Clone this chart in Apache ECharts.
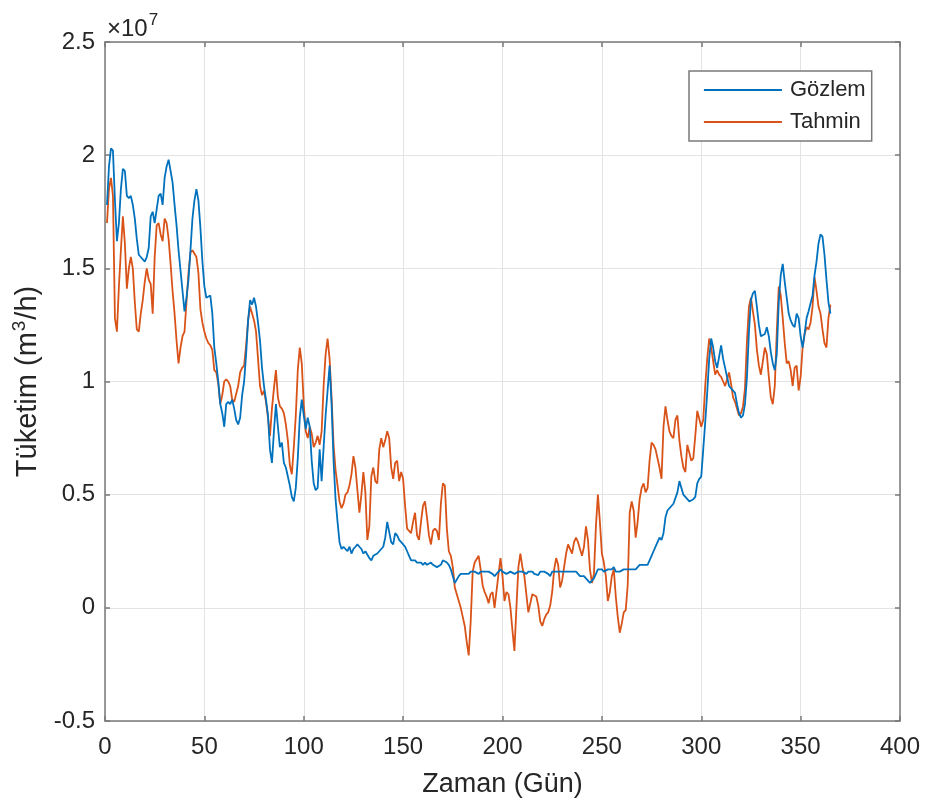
<!DOCTYPE html>
<html>
<head>
<meta charset="utf-8">
<script src="https://cdn.jsdelivr.net/npm/echarts@6/dist/echarts.min.js"></script>
<style>
  html, body { margin: 0; padding: 0; background: #fff; }
  #chart { width: 928px; height: 808px; }
</style>
</head>
<body>
<div id="chart"></div>
<script>
// Daily consumption, values in units of 10^7 m3/h (day 1 .. 365)
const gozlem = [
  1.78,1.95,2.03,2.02,1.80,1.62,1.70,1.85,1.94,1.93,
  1.82,1.81,1.82,1.78,1.72,1.63,1.56,1.55,1.55,1.53,
  1.55,1.59,1.73,1.75,1.70,1.76,1.82,1.83,1.78,1.90,
  1.95,1.98,1.98,1.88,1.78,1.69,1.58,1.49,1.40,1.31,
  1.37,1.45,1.58,1.72,1.80,1.85,1.80,1.68,1.53,1.42,
  1.37,1.37,1.38,1.30,1.15,1.08,1.00,0.90,0.86,0.80,
  0.90,0.91,0.90,0.92,0.88,0.83,0.81,0.84,0.94,1.00,
  1.12,1.27,1.36,1.34,1.37,1.33,1.26,1.18,1.06,0.98,
  0.92,0.85,0.70,0.64,0.78,0.90,0.80,0.71,0.73,0.64,
  0.62,0.58,0.54,0.49,0.47,0.53,0.66,0.84,0.92,0.85,
  0.79,0.84,0.80,0.65,0.55,0.52,0.53,0.70,0.56,0.71,
  0.85,0.96,1.07,0.90,0.65,0.48,0.38,0.29,0.26,0.27,
  0.27,0.25,0.27,0.24,0.26,0.27,
  0.28,0.27,0.26,0.24,0.25,
  0.25,0.22,0.21,0.23,0.23,0.24,0.25,0.26,0.27,0.31,
  0.38,0.38,0.29,0.28,0.33,0.32,0.30,0.29,0.28,0.27,
  0.25,0.23,0.21,0.21,0.21,0.20,0.20,0.20,0.19,0.20,
  0.19,0.19,0.20,0.19,0.19,0.18,0.18,0.19,0.21,0.21,
  0.20,0.19,0.17,0.14,0.11,0.11,0.14,0.15,0.15,0.15,
  0.15,0.15,0.16,0.16,0.16,0.16,0.15,0.16,0.16,0.16,
  0.16,0.16,0.16,0.15,0.14,0.15,0.16,0.17,0.16,0.16,
  0.15,0.15,0.16,0.16,0.15,0.15,0.16,0.16,0.16,0.16,
  0.15,0.16,0.16,0.16,0.15,0.15,0.145,0.16,0.16,0.16,
  0.16,0.15,0.14,0.16,0.16,0.16,0.16,0.16,0.16,0.16,
  0.16,0.16,0.16,0.16,0.16,0.16,0.15,0.14,0.14,0.14,
  0.13,0.12,0.11,0.11,0.13,0.15,0.17,0.17,0.17,0.16,
  0.16,0.17,0.17,0.17,0.18,0.16,0.16,0.16,0.16,0.17,
  0.17,0.17,0.17,0.17,0.17,0.17,0.18,0.19,0.19,0.19,0.19,
  0.19,0.19,0.23,0.25,0.27,0.29,0.31,0.30,0.33,0.40,
  0.43,0.44,0.45,0.46,0.46,0.51,0.56,0.53,0.50,0.49,
  0.48,0.47,0.47,0.48,0.49,0.55,0.57,0.58,0.70,0.82,
  0.95,1.10,1.19,1.15,1.09,1.06,1.11,1.16,1.10,1.06,
  1.02,0.98,0.97,0.96,0.95,0.90,0.86,0.84,0.85,0.90,
  1.02,1.22,1.36,1.39,1.40,1.33,1.25,1.20,1.20,1.21,
  1.24,1.20,1.13,1.08,1.05,1.12,1.35,1.47,1.52,1.44,
  1.37,1.30,1.27,1.25,1.24,1.30,1.28,1.20,1.15,1.21,
  1.28,1.31,1.31,1.38,1.47,1.53,1.61,1.65,1.64,1.56,
  1.45,1.35,1.30
];

const tahmin = [
  1.70,1.85,1.90,1.82,1.28,1.22,1.42,1.58,1.73,1.61,
  1.41,1.50,1.55,1.50,1.35,1.23,1.22,1.30,1.36,1.44,
  1.50,1.45,1.43,1.30,1.55,1.69,1.70,1.65,1.62,1.72,
  1.70,1.63,1.52,1.40,1.30,1.18,1.08,1.15,1.20,1.22,
  1.35,1.48,1.57,1.58,1.58,1.55,1.48,1.32,1.26,1.22,
  1.19,1.17,1.16,1.14,1.05,1.04,0.99,0.90,0.94,1.00,
  1.01,1.00,0.98,0.92,0.91,0.91,0.98,1.04,1.06,1.07,
  1.16,1.27,1.33,1.30,1.27,1.22,1.10,0.98,0.94,0.96,
  0.91,0.84,0.76,0.88,0.97,1.05,0.93,0.89,0.88,0.86,
  0.81,0.74,0.63,0.59,0.71,0.85,1.05,1.15,1.08,0.90,
  0.78,0.75,0.80,0.77,0.71,0.73,0.76,0.72,0.78,0.98,
  1.12,1.19,1.10,0.93,0.72,0.61,0.54,0.47,0.44,0.46,
  0.50,0.51,0.54,0.59,0.67,0.62,
  0.52,0.42,0.50,0.60,0.51,
  0.30,0.36,0.58,0.62,0.56,0.55,0.70,0.75,0.71,0.74,
  0.78,0.75,0.62,0.57,0.64,0.65,0.56,0.60,0.57,0.45,
  0.35,0.34,0.33,0.38,0.42,0.32,0.30,0.38,0.45,0.47,
  0.40,0.32,0.28,0.34,0.35,0.34,0.30,0.46,0.55,0.54,
  0.35,0.25,0.23,0.18,0.09,0.06,0.03,0.00,-0.04,-0.08,
  -0.15,-0.21,-0.06,0.16,0.20,0.20,0.23,0.17,0.10,0.07,
  0.05,0.02,0.06,0.07,0.00,0.00,0.15,0.22,0.14,0.03,
  0.07,0.06,0.00,-0.10,-0.19,0.00,0.18,0.24,0.18,0.14,
  0.06,-0.02,0.02,0.06,0.06,0.05,0.01,-0.06,-0.08,-0.05,
  -0.03,-0.02,0.01,0.07,0.17,0.22,0.19,0.09,0.12,0.18,
  0.24,0.28,0.28,0.24,0.29,0.31,0.29,0.26,0.23,0.27,
  0.36,0.30,0.17,0.11,0.15,0.36,0.50,0.38,0.24,0.20,
  0.14,0.03,0.07,0.14,0.17,0.05,-0.04,-0.11,-0.07,-0.02,
  -0.01,0.10,0.42,0.47,0.43,0.31,0.38,0.48,0.53,0.55,0.51,
  0.53,0.65,0.73,0.72,0.70,0.66,0.62,0.57,0.80,0.89,
  0.83,0.78,0.76,0.75,0.83,0.85,0.74,0.67,0.62,0.60,
  0.72,0.72,0.65,0.66,0.76,0.87,0.87,0.80,0.83,0.98,
  1.10,1.19,1.15,1.09,1.03,1.05,1.03,1.02,1.00,0.98,
  1.01,1.04,0.99,0.93,0.91,0.88,0.85,0.86,0.89,0.97,
  1.18,1.33,1.37,1.31,1.25,1.14,1.07,1.03,1.09,1.15,
  1.12,1.02,0.93,0.90,0.98,1.22,1.42,1.38,1.28,1.17,
  1.08,1.09,1.05,0.98,1.06,1.07,0.96,1.02,1.15,1.21,
  1.24,1.23,1.26,1.33,1.46,1.40,1.33,1.30,1.23,1.17,
  1.15,1.28,1.34
];

const xTicks = [0, 50, 100, 150, 200, 250, 300, 350, 400];
const yTicks = [-0.5, 0, 0.5, 1, 1.5, 2, 2.5];

const FONT = '"Liberation Sans", Arial, Helvetica, sans-serif';
const AXIS_COLOR = '#7a7a7a';
const TEXT_COLOR = '#262626';

const toPairs = arr => arr.map((v, i) => [i + 1, v]);

const chart = echarts.init(document.getElementById('chart'), null, { renderer: 'canvas' });

const baseX = {
  type: 'value',
  min: xTicks[0],
  max: xTicks[xTicks.length - 1],
  interval: xTicks[1] - xTicks[0]
};
const baseY = {
  type: 'value',
  min: yTicks[0],
  max: yTicks[yTicks.length - 1],
  interval: yTicks[1] - yTicks[0]
};

chart.setOption({
  animation: false,
  backgroundColor: '#ffffff',
  textStyle: { fontFamily: FONT },
  grid: { left: 105, top: 42, right: 28, bottom: 87, containLabel: false },
  legend: {
    data: ['Gözlem', 'Tahmin'],
    orient: 'vertical',
    left: 689,
    top: 71,
    padding: [8, 6, 8, 14],
    itemGap: 10,
    itemWidth: 78,
    itemHeight: 14,
    // plain line keys, no point markers
    itemStyle: { opacity: 0 },
    lineStyle: { width: 1.8 },
    borderColor: AXIS_COLOR,
    borderWidth: 1.5,
    borderRadius: 0,
    backgroundColor: '#ffffff',
    textStyle: { fontSize: 22, color: TEXT_COLOR, fontFamily: FONT, padding: [0, 0, 0, 3] }
  },
  xAxis: [
    Object.assign({}, baseX, {
      position: 'bottom',
      name: 'Zaman (Gün)',
      nameLocation: 'middle',
      nameGap: 50,
      nameTextStyle: { fontSize: 27, color: TEXT_COLOR, fontFamily: FONT },
      axisLine: { show: true, onZero: false, lineStyle: { color: AXIS_COLOR, width: 1.5 } },
      axisTick: { show: true, inside: true, length: 5, lineStyle: { color: AXIS_COLOR, width: 1.5 } },
      axisLabel: { fontSize: 24, color: TEXT_COLOR, margin: 14, fontFamily: FONT },
      splitLine: { show: true, lineStyle: { color: '#e3e3e3', width: 1 } }
    }),
    Object.assign({}, baseX, {
      position: 'top',
      axisLine: { show: true, onZero: false, lineStyle: { color: AXIS_COLOR, width: 1.5 } },
      axisTick: { show: true, inside: true, length: 5, lineStyle: { color: AXIS_COLOR, width: 1.5 } },
      axisLabel: { show: false },
      splitLine: { show: false }
    })
  ],
  yAxis: [
    Object.assign({}, baseY, {
      position: 'left',
      name: '{t|Tüketim (m}{s|3}{t|/h)}',
      nameLocation: 'middle',
      nameGap: 62,
      nameRotate: 90,
      nameTextStyle: {
        fontSize: 29, color: TEXT_COLOR, fontFamily: FONT,
        rich: {
          t: { fontSize: 29, color: TEXT_COLOR, fontFamily: FONT, verticalAlign: 'bottom', lineHeight: 32 },
          s: { fontSize: 19, color: TEXT_COLOR, fontFamily: FONT, verticalAlign: 'top', lineHeight: 32, padding: [0, 1, 12, 1] }
        }
      },
      axisLine: { show: true, onZero: false, lineStyle: { color: AXIS_COLOR, width: 1.5 } },
      axisTick: { show: true, inside: true, length: 5, lineStyle: { color: AXIS_COLOR, width: 1.5 } },
      axisLabel: { fontSize: 24, color: TEXT_COLOR, margin: 10, fontFamily: FONT },
      splitLine: { show: true, lineStyle: { color: '#e3e3e3', width: 1 } }
    }),
    Object.assign({}, baseY, {
      position: 'right',
      axisLine: { show: true, onZero: false, lineStyle: { color: AXIS_COLOR, width: 1.5 } },
      axisTick: { show: true, inside: true, length: 5, lineStyle: { color: AXIS_COLOR, width: 1.5 } },
      axisLabel: { show: false },
      splitLine: { show: false }
    })
  ],
  graphic: [
    {
      type: 'text',
      left: 107,
      top: 12,
      style: {
        text: '{a|×10}{b|7}',
        rich: {
          a: { fontSize: 24, fill: TEXT_COLOR, fontFamily: FONT, verticalAlign: 'bottom' },
          b: { fontSize: 17, fill: TEXT_COLOR, fontFamily: FONT, verticalAlign: 'top', padding: [0, 0, 12, 1] }
        }
      }
    }
  ],
  series: [
    {
      name: 'Gözlem',
      type: 'line',
      xAxisIndex: 0,
      yAxisIndex: 0,
      data: toPairs(gozlem),
      showSymbol: false,
      symbol: 'none',
      color: '#0072BD',
      lineStyle: { color: '#0072BD', width: 1.8 },
      z: 3
    },
    {
      name: 'Tahmin',
      type: 'line',
      xAxisIndex: 0,
      yAxisIndex: 0,
      data: toPairs(tahmin),
      showSymbol: false,
      symbol: 'none',
      color: '#D95319',
      lineStyle: { color: '#D95319', width: 1.8 },
      z: 2
    }
  ]
});
</script>
</body>
</html>
